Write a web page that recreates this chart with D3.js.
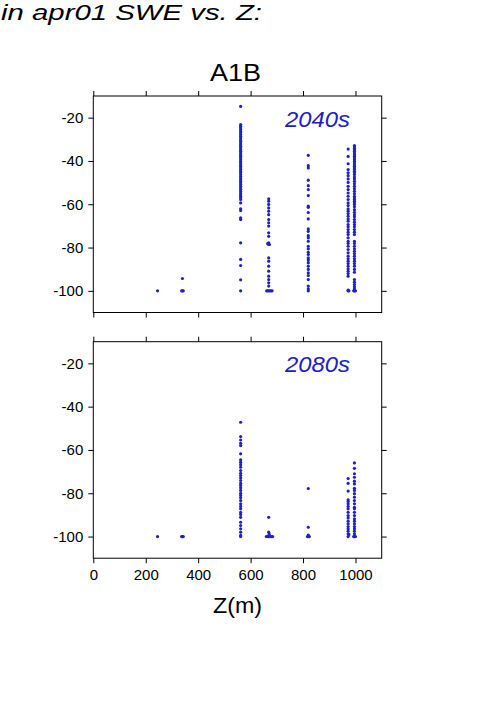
<!DOCTYPE html>
<html lang="en">
  <head>
    <meta charset="UTF-8" />
    <title>apr01 SWE vs. Z</title>
    <script src="https://d3js.org/d3.v7.min.js"></script>
    <style>
      body { margin: 0; background: #fff; }
      text { font-family: 'Liberation Sans', Arial, Helvetica, sans-serif; }
    </style>
  </head>
  <body>
    <svg width="501" height="709"></svg>

    <script>
      // station elevations (m)
      const sites = [245, 340, 562, 669, 820, 972, 996];

      // % change in apr01 SWE per site, 2040s
      const change2040 = [
        [-100],
        [-94.3, -100],
        [-14.8, -23.2, -24, -24.8, -25.5, -26.3, -27.1, -27.8, -28.6, -29.4, -30.2, -30.9, -31.7,
         -32.5, -33.2, -34, -34.8, -35.5, -36.3, -37.1, -37.8, -38.6, -39.4, -40.2, -40.9, -41.7,
         -42.5, -43.2, -44, -44.8, -45.5, -46.3, -47.1, -47.9, -48.6, -49.4, -50.2, -50.9, -51.7,
         -52.5, -53.2, -54, -54.8, -55.6, -56.3, -57.1, -57.8, -59.4, -62.1, -62.9, -66.3, -67.1,
         -77.8, -85.5, -88.3, -94.9, -100],
        [-57.5, -58.6, -60.1, -61.7, -63.2, -64.8, -67.1, -68.6, -70.1, -73.2, -74.8, -77.8, -78.6,
         -84.8, -86.3, -88.6, -90.9, -93.2, -94.8, -96.3, -97.8, -100],
        [-37.4, -42.2, -43.2, -48.9, -51.4, -53.2, -56, -60.9, -61.4, -63.8, -66.8, -71.4, -72.5,
         -74.5, -75.5, -77.1, -79.4, -80.6, -82.2, -83.2, -84.8, -85.8, -87, -88.6, -90.1, -91.7,
         -92.9, -94.8, -97.8, -99.1, -100],
        [-34.5, -37.9, -41.3, -44, -45.5, -46.8, -48.3, -49.9, -51.7, -53.2, -54.8, -56.3, -57.8,
         -59.4, -60.6, -62.1, -63.2, -64.3, -65.5, -66.8, -67.8, -69.4, -70.4, -71.7, -72.9, -74,
         -75.5, -77.1, -78.1, -79.4, -80.9, -82.4, -84, -85.2, -86.3, -87.4, -88.6, -89.8, -90.9,
         -92, -93.2, -99.7, -100],
        [-32.9, -33.5, -34.2, -34.8, -35.5, -36.3, -37.1, -37.8, -38.6, -39.4, -40.2, -40.9, -41.7,
         -42.5, -43.2, -44, -44.8, -45.5, -46.3, -47.4, -48.3, -49.4, -50.5, -51.7, -52.8, -54,
         -55.1, -56.3, -57.1, -57.8, -58.6, -59.4, -60.1, -61.2, -62.5, -63.7, -64.8, -65.8, -67.1,
         -68.3, -69.4, -70.4, -71.7, -72.9, -74, -77.1, -78.1, -79.4, -80.6, -81.7, -82.8, -84,
         -85.2, -86.3, -87.4, -88.6, -90.1, -91.4, -94.8, -96, -97.1, -98.1, -99.1, -100],
      ];

      // % change in apr01 SWE per site, 2080s
      const change2080 = [
        [-100],
        [-100],
        [-47.2, -53.8, -55.4, -56.9, -58, -61.8, -64.6, -65.7, -66.8, -68, -69.5, -70.8, -71.8,
         -72.9, -74.1, -75.4, -76.4, -77.5, -78.7, -80, -81, -82.1, -83.4, -84.9, -86.1, -87.2,
         -88.8, -89.8, -91.1, -93.4, -94.9, -96.4, -98, -99.5, -100],
        [-91.1, -98, -100],
        [-77.8, -95.7, -99.3, -100],
        [-73.2, -75.4, -79, -83, -83.8, -84.9, -86.1, -87.2, -88.8, -90.3, -91.4, -92.9, -94.1,
         -95.4, -96.4, -97.5, -98.7, -100],
        [-66, -68.5, -71, -72.6, -74.4, -75.7, -77.7, -78.7, -80.2, -81.8, -83.4, -84.9, -86.5,
         -87.2, -88.8, -90.3, -91.8, -92.9, -94.1, -95.4, -96.4, -97.5, -98.7, -100],
      ];

      // extra [z, change] points in the clusters next to the sites
      const extra2040 = [[337, -100], [343, -100], [661, -100], [665, -100], [674, -100],
        [678, -100], [682, -100], [665, -78.2], [672, -78.6], [975, -100], [993, -100], [1000, -100]];
      const extra2080 = [[337, -100], [343, -100], [660, -100], [665, -100], [674, -100],
        [679, -100], [684, -100], [671, -99], [817, -100], [824, -100], [975, -99], [993, -100], [1000, -100]];

      const panelLabels = ['2040s', '2080s'];
      const xTicks = [0, 200, 400, 600, 800, 1000];
      const yTicks = [-20, -40, -60, -80, -100];

      const svg = d3.select('svg');
      const blue = '#2020c4';

      const x = d3.scaleLinear().domain([0, 1100]).range([93.3, 381.7]);
      const panelTops = [96, 341.7];
      const panelH = 216.5;

      // the original glyphs are wider than Liberation Sans, so stretch to measured widths
      svg.append('text')
        .attr('x', 1).attr('y', 20)
        .attr('font-size', 22).attr('font-style', 'italic')
        .attr('textLength', 261).attr('lengthAdjust', 'spacingAndGlyphs')
        .text('in apr01 SWE vs. Z:');

      svg.append('text')
        .attr('x', 210).attr('y', 81)
        .attr('font-size', 23)
        .attr('textLength', 51).attr('lengthAdjust', 'spacingAndGlyphs')
        .text('A1B');

      const panelData = [change2040, change2080];
      const extras = [extra2040, extra2080];

      panelTops.forEach((top, i) => {
        const y = d3.scaleLinear().domain([-110, -10]).range([top + panelH, top]);
        const g = svg.append('g');

        const pts = [];
        panelData[i].forEach((vals, s) => vals.forEach((v) => pts.push([sites[s], v])));
        extras[i].forEach((p) => pts.push(p));

        g.selectAll('.dot')
          .data(pts)
          .enter()
          .append('circle')
          .attr('class', 'dot')
          .attr('cx', (d) => x(d[0]))
          .attr('cy', (d) => y(d[1]))
          .attr('r', 1.6)
          .attr('fill', blue);

        // axes on all four sides, ticks outward
        const left = g.append('g').attr('transform', `translate(${x.range()[0]},0)`)
          .call(d3.axisLeft(y).tickValues(yTicks).tickSize(5).tickPadding(5).tickSizeOuter(0));
        const right = g.append('g').attr('transform', `translate(${x.range()[1]},0)`)
          .call(d3.axisRight(y).tickValues(yTicks).tickSize(5).tickFormat('').tickSizeOuter(0));
        const topAx = g.append('g').attr('transform', `translate(0,${top})`)
          .call(d3.axisTop(x).tickValues(xTicks).tickSize(5).tickFormat('').tickSizeOuter(0));
        const bottom = g.append('g').attr('transform', `translate(0,${top + panelH})`)
          .call(d3.axisBottom(x).tickValues(xTicks).tickSize(5).tickPadding(6).tickSizeOuter(0)
            .tickFormat(i === 1 ? d3.format('d') : ''));

        [left, right, topAx, bottom].forEach((a) => {
          a.select('.domain').remove();
          a.selectAll('text').attr('font-size', 15).attr('fill', '#000')
            .style('font-family', "'Liberation Sans', Arial, sans-serif");
          a.selectAll('line').attr('stroke', '#000');
        });
        left.selectAll('text').text((d) => String(d));

        g.append('rect')
          .attr('x', x.range()[0]).attr('y', top)
          .attr('width', x.range()[1] - x.range()[0]).attr('height', panelH)
          .attr('fill', 'none').attr('stroke', '#000').attr('stroke-width', 1);

        g.append('text')
          .attr('x', 285).attr('y', top + 30.5)
          .attr('font-size', 22).attr('font-style', 'italic')
          .attr('textLength', 65).attr('lengthAdjust', 'spacingAndGlyphs')
          .attr('fill', blue)
          .text(panelLabels[i]);
      });

      svg.append('text')
        .attr('x', 213).attr('y', 613)
        .attr('font-size', 22)
        .attr('textLength', 49).attr('lengthAdjust', 'spacingAndGlyphs')
        .text('Z(m)');
    </script>
  </body>
</html>
